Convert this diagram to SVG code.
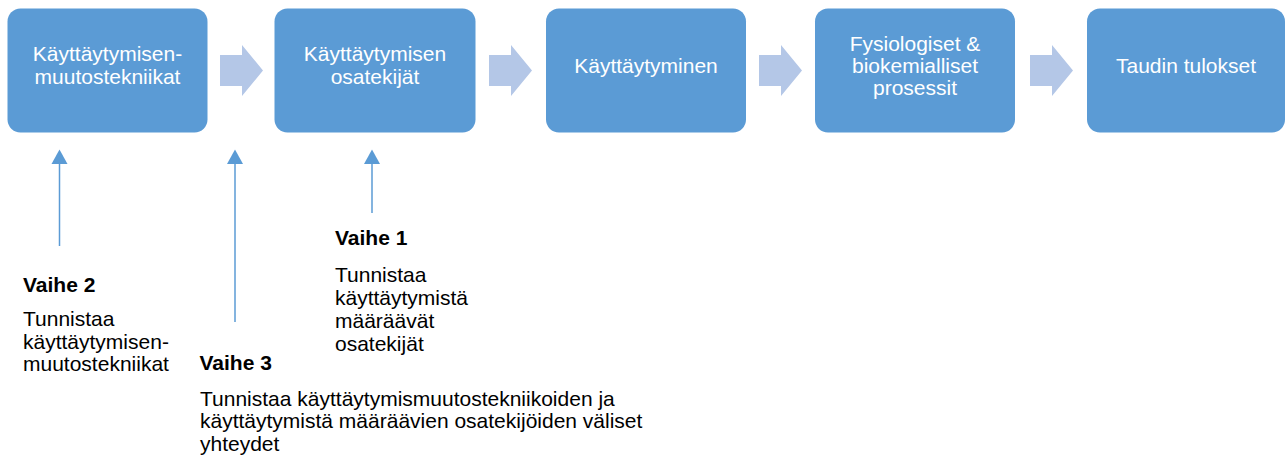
<svg xmlns="http://www.w3.org/2000/svg" width="1285" height="461" viewBox="0 0 1285 461">
<style>
.box{fill:#5B9BD5;}
.bt{font-family:"Liberation Sans",Arial,sans-serif;font-size:21px;fill:#FFFFFF;text-anchor:middle;}
.chev{fill:#B4C7E7;}
.vl{stroke:#5B9BD5;stroke-width:1.5;fill:none;}
.vh{fill:#5B9BD5;}
.h{font-family:"Liberation Sans",Arial,sans-serif;font-size:21px;font-weight:bold;fill:#000000;}
.t{font-family:"Liberation Sans",Arial,sans-serif;font-size:21px;fill:#000000;}
</style>
<rect width="1285" height="461" fill="#FFFFFF"/>
<g id="node-1"><rect class="box" x="7.5" y="8.5" width="200" height="124" rx="13"/><text class="bt" x="107.5" y="61">Käyttäytymisen-</text><text class="bt" x="107.5" y="84">muutostekniikat</text></g>
<g id="node-2"><rect class="box" x="274.5" y="8.5" width="201" height="124" rx="13"/><text class="bt" x="375" y="61">Käyttäytymisen</text><text class="bt" x="375" y="84">osatekijät</text></g>
<g id="node-3"><rect class="box" x="546" y="8.5" width="200" height="124" rx="13"/><text class="bt" x="646" y="73">Käyttäytyminen</text></g>
<g id="node-4"><rect class="box" x="815" y="8.5" width="200" height="124" rx="13"/><text class="bt" x="915" y="51">Fysiologiset &amp;</text><text class="bt" x="915" y="73">biokemialliset</text><text class="bt" x="915" y="95">prosessit</text></g>
<g id="node-5"><rect class="box" x="1087" y="8.5" width="198" height="124" rx="13"/><text class="bt" x="1186" y="73">Taudin tulokset</text></g>
<g id="connectors">
<path class="chev" d="M220,55 H242 V45 L263,70.5 L242,96 V86 H220 Z"/>
<path class="chev" d="M489,55 H511 V45 L532,70.5 L511,96 V86 H489 Z"/>
<path class="chev" d="M759,55 H781 V45 L802,70.5 L781,96 V86 H759 Z"/>
<path class="chev" d="M1030,55 H1052 V45 L1073,70.5 L1052,96 V86 H1030 Z"/>
<line class="vl" x1="59.5" y1="162" x2="59.5" y2="246"/><path class="vh" d="M59.5,149.5 L67.5,164 L51.5,164 Z"/>
<line class="vl" x1="235" y1="162" x2="235" y2="322"/><path class="vh" d="M235,149.5 L243,164 L227,164 Z"/>
<line class="vl" x1="372" y1="162" x2="372" y2="213"/><path class="vh" d="M372,149.5 L380,164 L364,164 Z"/>
</g>
<g id="label-vaihe1"><text class="h" x="335" y="245">Vaihe 1</text><text class="t" x="335" y="282">Tunnistaa</text><text class="t" x="335" y="305">käyttäytymistä</text><text class="t" x="335" y="328">määräävät</text><text class="t" x="335" y="351">osatekijät</text></g>
<g id="label-vaihe2"><text class="h" x="23" y="292">Vaihe 2</text><text class="t" x="23" y="326">Tunnistaa</text><text class="t" x="23" y="348.5">käyttäytymisen-</text><text class="t" x="23" y="371">muutostekniikat</text></g>
<g id="label-vaihe3"><text class="h" x="199.5" y="369.5">Vaihe 3</text><text class="t" x="200" y="405.5">Tunnistaa käyttäytymismuutostekniikoiden ja</text><text class="t" x="200" y="428">käyttäytymistä määräävien osatekijöiden väliset</text><text class="t" x="200" y="450.5">yhteydet</text></g>
</svg>
